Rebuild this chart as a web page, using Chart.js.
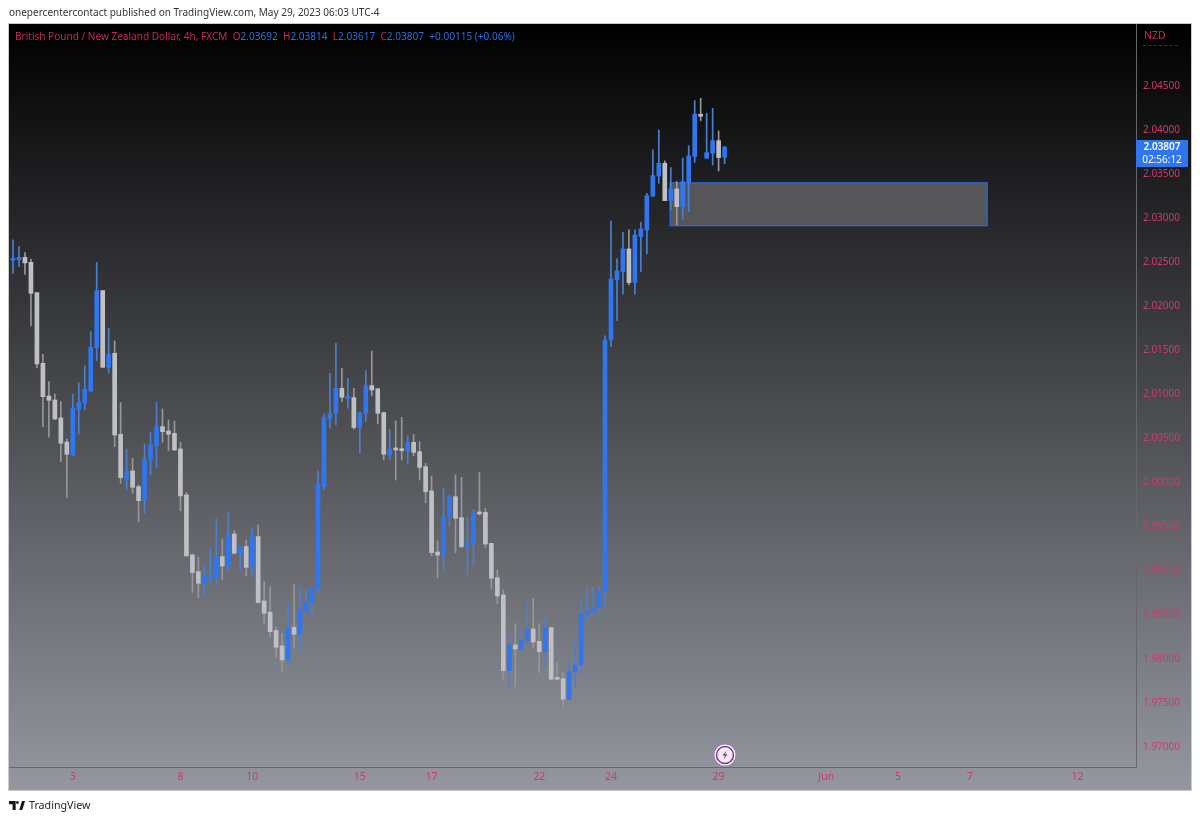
<!DOCTYPE html>
<html>
<head>
<meta charset="utf-8">
<title>GBPNZD 4h</title>
<script src="https://cdn.jsdelivr.net/npm/chart.js@4"></script>
<style>
  html, body { margin: 0; padding: 0; background: #fff; }
  body { width: 1200px; height: 821px; position: relative; overflow: hidden; font-family: "Noto Sans", sans-serif; }
  canvas { position: absolute; left: 0; top: 0; }
  .txt { position: absolute; white-space: nowrap; }
  #published { left: 9px; top: 5px; font-size: 10px; color: #333; }
  #legend { left: 15px; top: 29px; font-size: 10.05px; color: #c22c5c; }
  #legend b { font-weight: normal; color: #2f6fdc; }
  #currency { left: 1144px; top: 28px; font-size: 10.5px; color: #c22c5c; }
  #currencyLine { position: absolute; left: 1143px; top: 45px; width: 35px; border-top: 1px dashed #5a2233; }
  #tag { position: absolute; left: 1136px; top: 140px; width: 52px; height: 27px; background: #2f76ee; color: #fff; font-size: 10px; line-height: 13px; text-align: center; }
  #tag div:first-child { font-weight: 600; }
  #logoText { left: 29px; top: 798px; font-size: 10.7px; color: #222; }
  #logo { position: absolute; left: 9px; top: 801px; }
  #bolt { position: absolute; left: 714px; top: 744px; }
</style>
</head>
<body>
<canvas id="chart" width="1200" height="821"></canvas>
<div class="txt" id="published">onepercentercontact published on TradingView.com, May 29, 2023 06:03 UTC-4</div>
<div class="txt" id="legend">British Pound / New Zealand Dollar, 4h, FXCM&nbsp; O<b>2.03692</b>&nbsp; H<b>2.03814</b>&nbsp; L<b>2.03617</b>&nbsp; C<b>2.03807</b>&nbsp; <b>+0.00115 (+0.06%)</b></div>
<div class="txt" id="currency">NZD</div>
<div id="currencyLine"></div>
<div id="tag"><div>2.03807</div><div>02:56:12</div></div>
<svg id="bolt" width="22" height="22" viewBox="0 0 22 22">
  <circle cx="11" cy="11" r="10.5" fill="#fff"/>
  <circle cx="11" cy="11" r="8.5" fill="#eee" stroke="#8e24aa" stroke-width="1.5"/>
  <path d="M12.5 6.5 L8.5 11.5 H11 L9.5 15.5 L13.5 10.2 H11 Z" fill="#8e24aa"/>
</svg>
<svg id="logo" width="16" height="9" viewBox="0 0 18 10" preserveAspectRatio="none">
  <path d="M0 0 H7.5 V10 H4 V3.5 H0 Z M9.5 0 A1.6 1.6 0 1 1 9.49 0 Z M11.5 10 L14.6 0 H18 L15 10 Z" fill="#131722"/>
</svg>
<div class="txt" id="logoText">TradingView</div>
<script>
const open = [
  2.02522, 2.02526, 2.02556, 2.02499, 2.02155, 2.01353, 2.00983, 2.00937, 2.00733, 2.00461,
  2.00313, 2.00831, 2.00899, 2.01039, 2.01531, 2.02178, 2.01308, 2.01467, 2.00548, 2.00052,
  2.00132, 1.99954, 1.99803, 2.00256, 2.00419, 2.00635, 2.00585, 2.00559, 2.00382, 1.9986,
  1.99179, 1.9899, 1.98858, 1.98926, 1.98926, 1.9916, 1.99054, 1.99417, 1.99198, 1.99274,
  1.99039, 1.99387, 1.98657, 1.98529, 1.98321, 1.98147, 1.97988, 1.98358, 1.98279, 1.98536,
  1.98638, 1.98801, 1.99954, 2.00722, 2.00786, 2.0107, 2.00953, 2.00964, 2.00624, 2.00786,
  2.011, 2.01063, 2.00794, 2.00313, 2.00381, 2.00381, 2.00351, 2.00457, 2.00351, 2.00181,
  1.99905, 1.99212, 1.99178, 1.99606, 1.9984, 1.99602, 1.99273, 1.99311, 1.99666, 1.99662,
  1.99311, 1.98921, 1.98725, 1.97866, 1.98157, 1.98108, 1.98206, 1.98339, 1.98199, 1.98082,
  1.98354, 1.97779, 1.97775, 1.97541, 1.97855, 1.9793, 1.98505, 1.98535, 1.98585, 1.98762,
  2.01618, 2.02299, 2.02394, 2.02651, 2.02273, 2.02791, 2.02867, 2.03252, 2.03479, 2.03623,
  2.03199, 2.03332, 2.03131, 2.03407, 2.03699, 2.04171, 2.0368, 2.03736, 2.0388, 2.03692
];
const high = [
  2.02753, 2.02677, 2.02609, 2.02537, 2.02155, 2.01455, 2.01145, 2.01005, 2.00918, 2.00495,
  2.01005, 2.01134, 2.01323, 2.01712, 2.02499, 2.02178, 2.0175, 2.01607, 2.00907, 2.00377,
  2.00275, 1.99973, 2.00438, 2.0057, 2.00911, 2.00835, 2.0071, 2.00699, 2.00457, 1.99886,
  1.99191, 1.99153, 1.99077, 1.99255, 1.99588, 1.99361, 1.99659, 1.99455, 1.99281, 1.99349,
  1.99489, 1.9952, 1.98877, 1.9882, 1.98366, 1.9829, 1.98623, 1.98846, 1.9882, 1.98774,
  1.9882, 2.00132, 2.00779, 2.0124, 2.01581, 2.01297, 2.01184, 2.0107, 2.00794, 2.01271,
  2.01494, 2.0107, 2.00794, 2.00604, 2.00699, 2.0074, 2.00532, 2.00547, 2.00464, 2.00218,
  2.00075, 1.99337, 1.99935, 1.99859, 2.00086, 2.0006, 1.99606, 1.99696, 2.00116, 1.99708,
  1.99311, 1.99008, 1.98781, 1.98259, 1.98396, 1.98365, 1.98668, 1.98687, 1.98396, 1.9849,
  1.98354, 1.97961, 1.97843, 1.97987, 1.98195, 1.98656, 1.98812, 1.98812, 1.98819, 2.01664,
  2.02969, 2.02538, 2.0284, 2.02867, 2.02867, 2.02954, 2.03283, 2.03774, 2.04001, 2.03649,
  2.03574, 2.03415, 2.0368, 2.0382, 2.04334, 2.0436, 2.0419, 2.04247, 2.0399, 2.03814
];
const low = [
  2.02374, 2.0245, 2.02363, 2.01777, 2.013, 2.00635, 2.00514, 2.00715, 2.00238, 1.99829,
  2.00302, 2.00551, 2.00824, 2.01032, 2.0138, 2.01308, 2.0124, 2.00408, 1.99992, 1.99924,
  1.99878, 1.99557, 1.99651, 2.00086, 2.00173, 2.00457, 2.00362, 2.00362, 1.99678, 1.99168,
  1.98752, 1.98695, 1.98718, 1.9885, 1.98858, 1.98895, 1.9899, 1.99191, 1.9899, 1.98941,
  1.98941, 1.98638, 1.98404, 1.98245, 1.98018, 1.97855, 1.97939, 1.9812, 1.98094, 1.98517,
  1.98487, 1.98763, 1.99924, 2.00616, 2.00654, 2.00919, 2.00843, 2.00605, 2.00333, 2.00692,
  2.00983, 2.00665, 2.00257, 2.00264, 2.00029, 2.00256, 2.00211, 2.00305, 2.00029, 1.99772,
  1.99167, 1.98921, 1.98989, 1.995, 1.99205, 1.99262, 1.98944, 1.99065, 1.99632, 1.99265,
  1.98793, 1.98622, 1.97768, 1.97684, 1.97692, 1.98093, 1.98206, 1.98119, 1.97843, 1.97911,
  1.97768, 1.9776, 1.97469, 1.97533, 1.97677, 1.97817, 1.98411, 1.98498, 1.98479, 1.98592,
  2.01543, 2.01838, 2.02137, 2.02243, 2.02137, 2.02394, 2.02594, 2.03245, 2.03396, 2.03199,
  2.03093, 2.02923, 2.02988, 2.03075, 2.03634, 2.04107, 2.0368, 2.03604, 2.03536, 2.03617
];
const close = [
  2.02537, 2.02556, 2.02492, 2.02147, 2.01346, 2.00975, 2.00933, 2.00722, 2.00446, 2.00321,
  2.00843, 2.00911, 2.01058, 2.01535, 2.02178, 2.01308, 2.01459, 2.0054, 2.00056, 2.00128,
  1.99946, 1.99795, 2.00264, 2.00427, 2.00635, 2.00578, 2.00548, 2.0037, 1.99849, 1.99168,
  1.98979, 1.98858, 1.98933, 1.98941, 1.99153, 1.99054, 1.99406, 1.99198, 1.99274, 1.99039,
  1.99395, 1.98638, 1.98517, 1.98309, 1.98132, 1.97988, 1.98355, 1.98279, 1.98555, 1.98638,
  1.98812, 1.99981, 2.00737, 2.00786, 2.0107, 2.00968, 2.00964, 2.00624, 2.00794, 2.011,
  2.01051, 2.00786, 2.00321, 2.00381, 2.0037, 2.00362, 2.00457, 2.00343, 2.00173, 1.99897,
  1.99205, 1.99178, 1.99613, 1.9984, 1.99594, 1.99273, 1.99322, 1.9967, 1.99644, 1.99303,
  1.98914, 1.98713, 1.97866, 1.98157, 1.98112, 1.98214, 1.98339, 1.98191, 1.98082, 1.98354,
  1.97768, 1.97768, 1.97541, 1.97855, 1.9793, 1.98509, 1.98543, 1.98585, 1.9877, 2.01618,
  2.02311, 2.02401, 2.02651, 2.02269, 2.0281, 2.02878, 2.03256, 2.03483, 2.03623, 2.03199,
  2.03332, 2.03131, 2.03415, 2.03706, 2.04179, 2.04156, 2.03744, 2.0388, 2.03687, 2.03807
];

// x axis: one unit is one 4h bar, dates sit at every 6th/12th bar
const dayLabels = ["3", "8", "10", "15", "17", "22", "24", "29", "Jun", "5", "7", "12"];
const dayBars = [10, 28, 40, 58, 70, 88, 100, 118, 136, 148, 160, 178];
const priceTicks = [2.045, 2.04, 2.035, 2.03, 2.025, 2.02, 2.015, 2.01, 2.005, 2, 1.995, 1.99, 1.985, 1.98, 1.975, 1.97];

// drawn rectangle on the chart
const boxBars = [109.9, 162.9];
const boxPrices = [2.0340, 2.02915];

const upColor = "#2f76f0";
const downColor = "#bfc0c5";
const upWick = "#4d7fd0";
const downWick = "#96979c";
const pink = "#d2386c";

const bars = open.map((o, i) => i);
const bodyData = bars.map((i) => ({ x: i, y: [open[i], close[i]] }));
const wickData = bars.map((i) => ({ x: i, y: [low[i], high[i]] }));
const isUp = (i) => close[i] >= open[i];

const paintBackground = {
  id: "paintBackground",
  beforeDraw(chart) {
    const ctx = chart.ctx;
    const g = ctx.createLinearGradient(0, 24, 0, 790);
    g.addColorStop(0, "#000000");
    g.addColorStop(1, "#94979f");
    ctx.save();
    ctx.fillStyle = g;
    ctx.fillRect(9, 24, 1182, 766);
    ctx.strokeStyle = "#c9c9cb";
    ctx.strokeRect(8.5, 23.5, 1183, 767);
    ctx.restore();
  },
  beforeDatasetsDraw(chart) {
    const { ctx, scales } = chart;
    const x0 = scales.x.getPixelForValue(boxBars[0]);
    const x1 = scales.x.getPixelForValue(boxBars[1]);
    const y0 = scales.y.getPixelForValue(boxPrices[0]);
    const y1 = scales.y.getPixelForValue(boxPrices[1]);
    ctx.save();
    ctx.fillStyle = "#565658";
    ctx.strokeStyle = "#2a68d8";
    ctx.lineWidth = 1.4;
    ctx.fillRect(x0, y0, x1 - x0, y1 - y0);
    ctx.strokeRect(x0, y0, x1 - x0, y1 - y0);
    ctx.restore();
  },
};

new Chart(document.getElementById("chart"), {
  type: "bar",
  data: {
    datasets: [
      {
        label: "Body",
        data: bodyData,
        backgroundColor: bars.map((i) => (isUp(i) ? upColor : downColor)),
        barThickness: 4,
        minBarLength: 2,
        grouped: false,
        order: 1,
      },
      {
        label: "Wick",
        data: wickData,
        backgroundColor: bars.map((i) => (isUp(i) ? upWick : downWick)),
        barThickness: 1,
        grouped: false,
        order: 2,
      },
    ],
  },
  options: {
    responsive: false,
    animation: false,
    layout: { padding: { left: 9, right: 9, top: 24, bottom: 31 } },
    plugins: { legend: { display: false }, tooltip: { enabled: false } },
    scales: {
      x: {
        type: "linear",
        offset: false,
        min: -0.67,
        max: 187.8,
        grid: { display: false, drawTicks: false, tickLength: 0 },
        border: { display: true, color: "#66676d" },
        afterFit(scale) { scale.height = 23; },
        afterBuildTicks(scale) { scale.ticks = dayBars.map((v) => ({ value: v })); },
        ticks: {
          color: pink,
          font: { family: "Noto Sans", size: 10.5 },
          maxRotation: 0,
          autoSkip: false,
          padding: 4,
          callback: (v) => dayLabels[dayBars.indexOf(v)],
        },
      },
      y: {
        position: "right",
        min: 1.96773,
        max: 2.05203,
        grid: { display: false, drawTicks: false, tickLength: 0 },
        border: { display: true, color: "#66676d" },
        afterFit(scale) { scale.width = 55; },
        afterBuildTicks(scale) { scale.ticks = priceTicks.map((v) => ({ value: v })); },
        ticks: {
          color: pink,
          font: { family: "Noto Sans", size: 10 },
          padding: 7,
          autoSkip: false,
          callback: (v) => v.toFixed(5),
        },
      },
    },
  },
  plugins: [paintBackground],
});
</script>
</body>
</html>
